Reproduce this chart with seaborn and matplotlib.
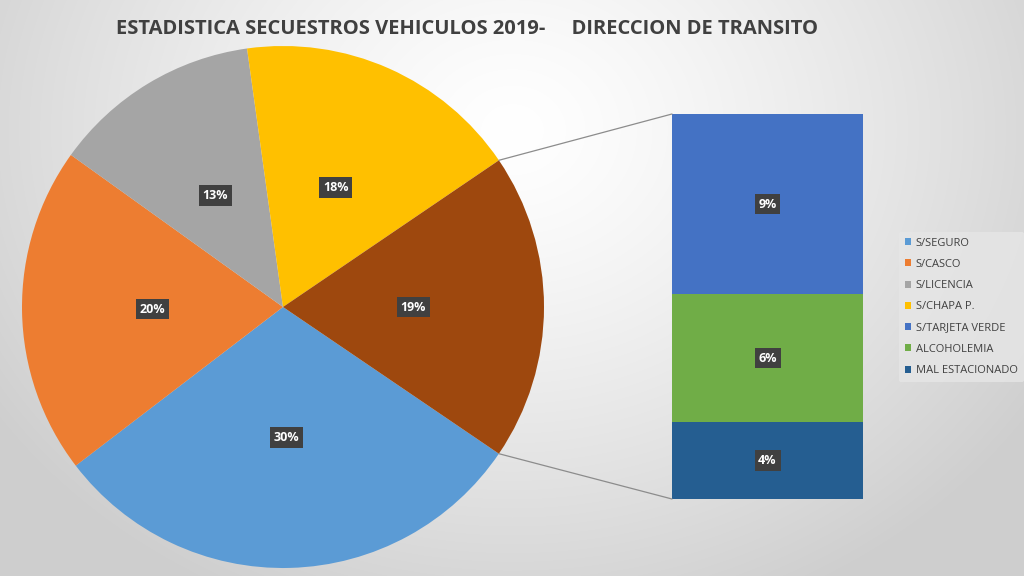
import numpy as np
import pandas as pd
import matplotlib
matplotlib.use("Agg")
import matplotlib.pyplot as plt
from matplotlib.patches import ConnectionPatch, Patch
import seaborn as sns

sns.set_theme(style="white")
plt.rcParams['font.family'] = ['Open Sans', 'DejaVu Sans']

# ---- data ----
title = "ESTADISTICA SECUESTROS VEHICULOS 2019-     DIRECCION DE TRANSITO"
pie_labels = ["S/SEGURO", "S/CASCO", "S/LICENCIA", "S/CHAPA P."]
pie_values = [30.1, 20.3, 12.9, 17.7]
bar_labels = ["S/TARJETA VERDE", "ALCOHOLEMIA", "MAL ESTACIONADO"]
bar_values = [8.9, 6.3, 3.8]
pie_colors = ["#5B9BD5", "#ED7D31", "#A5A5A5", "#FFC000"]
other_color = "#9E480E"
bar_colors = ["#4472C4", "#70AD47", "#255E91"]

W, H = 1024, 576
fig = plt.figure(figsize=(W / 100, H / 100), dpi=100)

# background radial gradient
bg = fig.add_axes([0, 0, 1, 1], zorder=-10)
yy, xx = np.mgrid[0:H, 0:W]
d = np.sqrt(((xx - 512) / 620.0) ** 2 + ((yy - 130) / 520.0) ** 2)
d = np.clip(d, 0, 1)
val = 1.0 - 0.19 * d ** 1.3
bg.imshow(np.dstack([val, val, val]), aspect='auto', extent=[0, W, H, 0])
bg.set_axis_off()

def px_axes(x0, y0, x1, y1):
    return fig.add_axes([x0 / W, 1 - y1 / H, (x1 - x0) / W, (y1 - y0) / H])

# ---- pie ----
cx, cy, R = 283, 307, 261
axp = px_axes(cx - R, cy - R, cx + R, cy + R)
axp.set_facecolor("none")
other_total = sum(bar_values)
vals = pie_values + [other_total]
cols = pie_colors + [other_color]
frac_other = other_total / sum(vals)
start = -360 * frac_other / 2
wedges, texts, autotexts = axp.pie(
    vals, colors=cols, startangle=start, counterclock=False, radius=1,
    autopct='%1.0f%%', pctdistance=0.5,
    textprops=dict(color="white", fontsize=9, fontweight="bold"),
    wedgeprops=dict(linewidth=0))
for t in autotexts:
    t.set_bbox(dict(boxstyle="square,pad=0.3", facecolor="#404040", edgecolor="none"))
axp.set_xlim(-1, 1)
axp.set_ylim(-1, 1)
axp.set_axis_off()

# ---- stacked bar ----
axb = px_axes(672, 114, 863, 499)
axb.set_facecolor("none")
cum = np.cumsum(bar_values[::-1])[::-1]
for i in range(len(bar_values)):
    df = pd.DataFrame({"x": ["o"], "y": [cum[i]]})
    sns.barplot(data=df, x="x", y="y", ax=axb, color=bar_colors[i],
                width=1.0, saturation=1, linewidth=0)
axb.set_xlim(-0.5, 0.5)
axb.set_ylim(0, other_total)
bottoms = list(cum[1:]) + [0]
for i, v in enumerate(bar_values):
    axb.text(0, bottoms[i] + v / 2, f"{v:.0f}%", ha="center", va="center",
             color="white", fontsize=9, fontweight="bold",
             bbox=dict(boxstyle="square,pad=0.3", facecolor="#404040", edgecolor="none"))
axb.set_axis_off()

# connector lines
w = wedges[-1]
for ang, yb in [(w.theta2, other_total), (w.theta1, 0)]:
    px, py = np.cos(np.radians(ang)), np.sin(np.radians(ang))
    con = ConnectionPatch(xyA=(px, py), coordsA=axp.transData,
                          xyB=(-0.5, yb), coordsB=axb.transData,
                          color="#8C8C8C", linewidth=0.9)
    fig.add_artist(con)

# legend
handles = [Patch(facecolor=c, edgecolor="none") for c in pie_colors + bar_colors]
leg = fig.legend(handles, pie_labels + bar_labels, loc="upper left",
                 bbox_to_anchor=(893 / W, 1 - 226 / H), frameon=True,
                 fontsize=8, handlelength=0.6, handleheight=0.6,
                 handletextpad=0.4, labelspacing=0.92, borderpad=0.55,
                 labelcolor="#404040")
leg.get_frame().set_facecolor("#E6E6E6")
leg.get_frame().set_edgecolor("none")
leg.get_frame().set_alpha(0.8)

fig.text(467 / W, 1 - 29 / H, title, ha="center", va="center",
         fontsize=14.5, fontweight="bold", color="#404040",
         family=["Open Sans", "DejaVu Sans"], fontstretch="condensed")

fig.savefig("out.png", dpi=100)
